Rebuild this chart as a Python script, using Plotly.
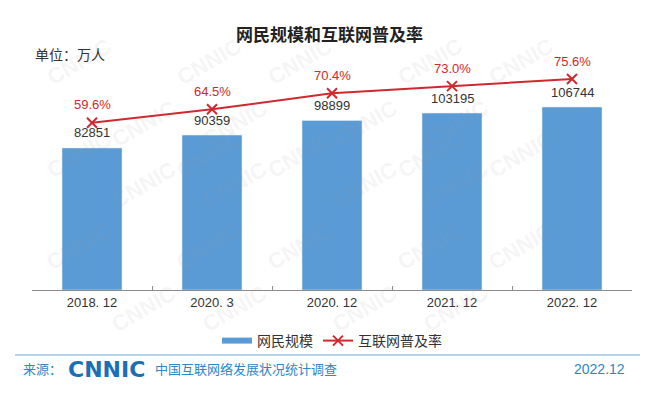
import plotly.graph_objects as go

categories = ["2018. 12", "2020. 3", "2020. 12", "2021. 12", "2022. 12"]
users = [82851, 90359, 98899, 103195, 106744]
penetration = [59.6, 64.5, 70.4, 73.0, 75.6]
pct_labels = ["59.6%", "64.5%", "70.4%", "73.0%", "75.6%"]

BLUE = "#5b9bd5"
RED = "#d0282e"
FONT = "Liberation Sans, Noto Sans CJK SC, sans-serif"

W, H = 653, 393
L, R, T, B = 32, 21, 40, 103
PW, PH = W - L - R, H - T - B


def px(x):
    return (x - L) / PW


def py(y):
    return (H - B - y) / PH


fig = go.Figure()

# watermark (decoration)
annotations = []
for row, yy in enumerate(range(30, 380, 62)):
    off = 0 if row % 2 == 0 else 65
    for xx in range(40 + off, 620, 130):
        annotations.append(dict(
            x=px(xx), y=py(yy), xref="paper", yref="paper", text="<b>CNNIC</b>",
            showarrow=False, textangle=-30,
            font=dict(family="Liberation Sans, sans-serif", size=22, color="rgba(150,150,150,0.10)")))

fig.add_trace(go.Bar(
    x=categories, y=users, name="网民规模", marker_color=BLUE,
    showlegend=False, yaxis="y", hoverinfo="skip"))

# legend entry for bars (thin bar icon like reference)
fig.add_trace(go.Scatter(
    x=[None], y=[None], mode="lines", name="网民规模",
    line=dict(color=BLUE, width=6), showlegend=True))

fig.add_trace(go.Scatter(
    x=categories, y=penetration, name="互联网普及率", yaxis="y2",
    mode="lines+markers", line=dict(color=RED, width=2), hoverinfo="skip",
    marker=dict(symbol="x-thin", size=10, line=dict(color=RED, width=2), color=RED)))

for c, v in zip(categories, users):
    annotations.append(dict(x=c, y=v, xref="x", yref="y", text=f"{v}", showarrow=False,
                            yshift=15, font=dict(family=FONT, size=13, color="#333333")))
for c, p, t in zip(categories, penetration, pct_labels):
    annotations.append(dict(x=c, y=p, xref="x", yref="y2", text=t, showarrow=False,
                            yshift=18, font=dict(family=FONT, size=13, color=RED)))

# title & unit
annotations.append(dict(x=px(329), y=py(35), xref="paper", yref="paper", text="<b>网民规模和互联网普及率</b>",
                        showarrow=False, xanchor="center", yanchor="middle",
                        font=dict(family=FONT, size=17, color="#222222")))
annotations.append(dict(x=px(33), y=py(55), xref="paper", yref="paper", text="单位：万人",
                        showarrow=False, xanchor="left", yanchor="middle",
                        font=dict(family=FONT, size=14, color="#333333")))

# footer
annotations.append(dict(x=px(21), y=py(369), xref="paper", yref="paper", text="来源：",
                        showarrow=False, xanchor="left", yanchor="middle",
                        font=dict(family=FONT, size=13, color="#2f86c8")))
annotations.append(dict(x=px(66), y=py(369), xref="paper", yref="paper", text="<b>CNNIC</b>",
                        showarrow=False, xanchor="left", yanchor="middle",
                        font=dict(family="DejaVu Sans, sans-serif", size=22, color="#1a6fb5")))
annotations.append(dict(x=px(153), y=py(369), xref="paper", yref="paper", text="中国互联网络发展状况统计调查",
                        showarrow=False, xanchor="left", yanchor="middle",
                        font=dict(family=FONT, size=13, color="#2f86c8")))
annotations.append(dict(x=px(627), y=py(369), xref="paper", yref="paper", text="2022.12",
                        showarrow=False, xanchor="right", yanchor="middle",
                        font=dict(family=FONT, size=14, color="#2f86c8")))

fig.update_layout(
    width=W, height=H,
    margin=dict(l=L, r=R, t=T, b=B, pad=0),
    paper_bgcolor="white", plot_bgcolor="white",
    bargap=0.5,
    hovermode=False,
    font=dict(family=FONT, size=13, color="#333333"),
    xaxis=dict(type="category", range=[-0.5, 4.5], showline=True, linecolor="#8c8c8c", linewidth=1,
               ticks="inside", ticklen=4, tickcolor="#8c8c8c", tickson="boundaries",
               showgrid=False, tickfont=dict(size=13, color="#333333"), fixedrange=True),
    yaxis=dict(range=[0, PH / 0.0017144], visible=False, showgrid=False, fixedrange=True),
    yaxis2=dict(range=[-1.7, 89.9], overlaying="y", visible=False, showgrid=False, fixedrange=True),
    legend=dict(orientation="h", x=0.5, xanchor="center", y=py(341), yanchor="middle",
                font=dict(family=FONT, size=14, color="#333333"), bgcolor="rgba(0,0,0,0)"),
    shapes=[dict(type="line", xref="paper", yref="paper", x0=px(15), x1=px(640),
                 y0=py(355), y1=py(355), line=dict(color="#9dc3e6", width=1.5))],
    annotations=annotations,
    showlegend=True,
)

fig.write_html("out.html", config={"displayModeBar": False},
               post_script="document.body.style.margin='0';document.body.style.overflow='hidden';")
